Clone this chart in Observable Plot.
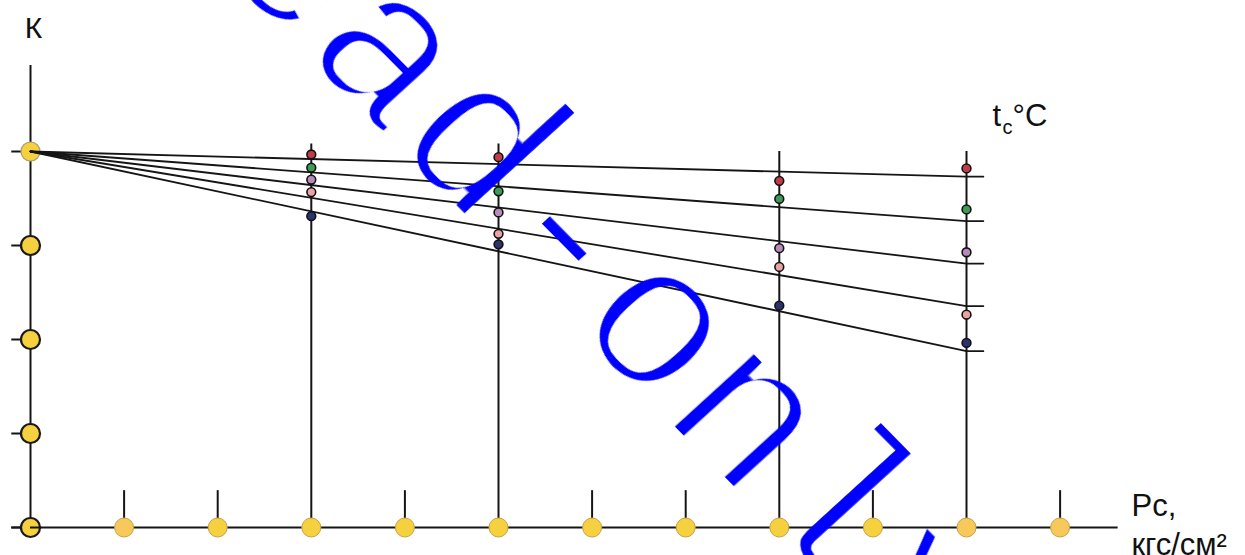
<!DOCTYPE html>
<html>
<head>
<meta charset="utf-8">
<script src="https://cdn.jsdelivr.net/npm/d3@7"></script>
<script src="https://cdn.jsdelivr.net/npm/@observablehq/plot@0.6"></script>
<style>
  body { margin: 0; background: #fff; }
  #chart svg { display: block; }
</style>
</head>
<body>
<div id="chart"></div>
<script>
// Graduations of the pressure axis Pc, кгс/см²
const pressureTicks = [0, 1, 2, 3, 4, 5, 6, 7, 8, 9, 10, 11];
// Pressures at which K was measured (drawn as full-height verticals)
const measuredPressures = [3, 5, 8, 10];
// Graduations of the K axis
const kTicks = [0, 0.25, 0.5, 0.75, 1];

// Temperature series, top line to bottom line
const seriesNames = ["t1", "t2", "t3", "t4", "t5"];
const seriesColors = ["#c23b4b", "#3e9a55", "#b68bbb", "#eba2a6", "#2c3170"];
// K reached by each fitted line at Pc = 10 (every line starts at K = 1, Pc = 0)
const lineEndK = [0.933, 0.815, 0.702, 0.589, 0.469];

// Measured K at measuredPressures, one array per series
const kSeries1 = [0.992, 0.985, 0.922, 0.955];
const kSeries2 = [0.957, 0.894, 0.874, 0.846];
const kSeries3 = [0.925, 0.838, 0.743, 0.732];
const kSeries4 = [0.892, 0.781, 0.693, 0.566];
const kSeries5 = [0.828, 0.753, 0.590, 0.491];

const W = 1245, H = 555;
// drawing geometry: Pc = 0 at 30px, one unit = 93.6px; K = 0 at 527px, one unit = 376px
const x0 = 30, xUnit = 93.6, y0 = 527, yUnit = 376;

const measured = [kSeries1, kSeries2, kSeries3, kSeries4, kSeries5].flatMap((ks, i) =>
  ks.map((k, j) => ({P: measuredPressures[j], K: k, color: seriesColors[i], s: seriesNames[i]}))
);

const lineEndP = 10;
const stubP = 10.18;
const fan = seriesNames.flatMap((s, i) => [
  {s, P: 0, K: 1},
  {s, P: lineEndP, K: lineEndK[i]},
  {s, P: stubP, K: lineEndK[i]}
]);

const shortTicks = pressureTicks.filter(p => p > 0 && !measuredPressures.includes(p));
const tallTop = p => (p < 6 ? 1.02 : 1.0);

const ink = "#151515";
const sans = "Liberation Sans, Arial, sans-serif";
const label = (txt, dx, dy, size, anchor = "start") =>
  Plot.text([txt], {frameAnchor: "top-left", dx, dy, text: d => d, fontSize: size, fontFamily: sans,
    fill: "#111", textAnchor: anchor, lineAnchor: "bottom"});

const chart = Plot.plot({
  width: W,
  height: H,
  margin: 0,
  x: {type: "linear", domain: [-x0 / xUnit, (W - x0) / xUnit], range: [0, W], axis: null},
  y: {type: "linear", domain: [(y0 - H) / yUnit, y0 / yUnit], range: [H, 0], axis: null},
  style: {background: "#fff", overflow: "visible"},
  marks: [
    // axes and graduation marks
    Plot.ruleY([0], {x1: -0.2, x2: 0, stroke: ink, strokeWidth: 2}),
    Plot.ruleX([0], {y1: 0, y2: 1.229, stroke: ink, strokeWidth: 2}),
    Plot.ruleY(kTicks, {y: d => d, x1: -0.2, x2: 0, stroke: ink, strokeWidth: 2}),
    Plot.ruleX(shortTicks, {x: d => d, y1: 0, y2: 0.098, stroke: ink, strokeWidth: 2}),
    Plot.ruleX(measuredPressures, {x: d => d, y1: 0, y2: tallTop, stroke: ink, strokeWidth: 2}),
    Plot.ruleY([0], {x1: 0, x2: 11.62, stroke: ink, strokeWidth: 2}),

    // graduation discs
    Plot.dot(pressureTicks.filter(p => p > 0), {
      x: d => d, y: 0, r: 9.5,
      fill: d => (d === 1 || d >= 10 ? "#f7c85a" : "#f6d13f"),
      stroke: "#c9a24a", strokeWidth: 1
    }),
    Plot.dot(kTicks, {
      x: 0, y: d => d, r: 9.5,
      fill: "#f6d13f",
      stroke: d => (d === 1 ? "#b0a070" : "#1a1a1a"),
      strokeWidth: d => (d === 1 ? 1.2 : 2.2)
    }),
    // x axis runs over the origin disc from its centre
    Plot.ruleY([0], {x1: 0, x2: 0.12, stroke: ink, strokeWidth: 2}),

    // fitted K lines for each temperature
    Plot.line(fan, {x: "P", y: "K", z: "s", stroke: ink, strokeWidth: 1.8}),

    // measured points
    Plot.dot(measured, {x: "P", y: "K", r: 4.4, fill: "color", stroke: "#111", strokeWidth: 1.6}),

    // labels
    label("К", 33, 37, 30, "middle"),
    label("Pc,", 1131, 515, 31),
    label("кгс/см²", 1131, 554, 31),
    label("t", 992, 125, 31),
    label("c", 1002, 133, 20),
    label("°C", 1012, 125, 31),

    // watermark
    Plot.text(["Read-only"], {frameAnchor: "top-left", dx: 522, dy: 276, text: d => d, rotate: 46.5, fontSize: 213,
      fontFamily: "Liberation Mono, DejaVu Sans Mono, monospace", fill: "#0000ff",
      textAnchor: "middle", lineAnchor: "bottom"})
  ]
});

// thin the watermark strokes and give it its slightly stretched slant
const svg = d3.select(chart);
svg.insert("defs", ":first-child")
  .append("filter").attr("id", "thin-stroke")
  .attr("x", "-10%").attr("y", "-10%").attr("width", "120%").attr("height", "120%")
  .append("feMorphology").attr("operator", "erode").attr("radius", 3);
svg.selectAll("text").filter(function () { return this.textContent === "Read-only"; })
  .attr("transform", "scale(1.02,0.98) rotate(46.5)")
  .attr("filter", "url(#thin-stroke)");

document.getElementById("chart").append(chart);
</script>
</body>
</html>
